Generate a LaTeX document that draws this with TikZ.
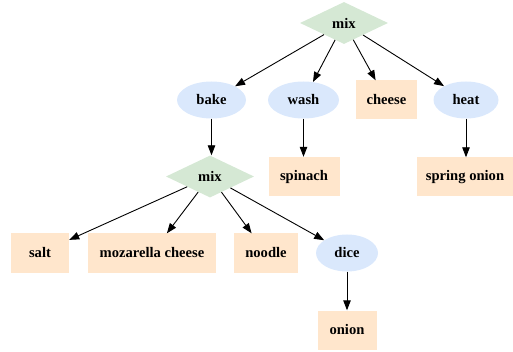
\documentclass[tikz,border=0pt]{standalone}
\usepackage{fontspec}
\setmainfont{Liberation Serif}
\usetikzlibrary{shapes.geometric,arrows.meta}
\definecolor{mixgreen}{HTML}{D5E8D4}
\definecolor{actblue}{HTML}{DAE8FC}
\definecolor{ingorange}{HTML}{FFE6CC}
\tikzset{
  base/.style={inner sep=0pt, font=\fontsize{14.6}{16}\selectfont\bfseries, text=black},
  mixnode/.style={base, diamond, aspect=2, fill=mixgreen, minimum width=88pt, minimum height=42pt},
  actnode/.style={base, ellipse, fill=actblue, minimum height=37pt},
  ingnode/.style={base, rectangle, fill=ingorange, minimum height=39pt},
  edge/.style={-{Triangle[length=10pt,width=7.5pt]}, line width=0.9pt, black}
}
\begin{document}
\begin{tikzpicture}[x=1pt,y=-1pt]
\useasboundingbox (0,0) rectangle (513,352);
\node[mixnode] (mixA) at (344,23) {mix};
\node[actnode, minimum width=69pt] (bake) at (211.5,100) {bake};
\node[actnode, minimum width=71pt] (wash) at (303.5,100) {wash};
\node[ingnode, minimum width=61pt] (cheese) at (386.5,100) {cheese};
\node[actnode, minimum width=65pt] (heat) at (466,100) {heat};
\node[mixnode] (mixB) at (210,176.5) {mix};
\node[ingnode, minimum width=71pt] (spinach) at (304,176.5) {spinach};
\node[ingnode, minimum width=96pt] (spring) at (465,177) {spring onion};
\node[ingnode, minimum width=58pt] (salt) at (40,253) {salt};
\node[ingnode, minimum width=128pt] (mozza) at (152,253) {mozarella cheese};
\node[ingnode, minimum width=64pt] (noodle) at (266,253) {noodle};
\node[actnode, minimum width=62pt] (dice) at (347,253) {dice};
\node[ingnode, minimum width=59pt] (onion) at (347,330) {onion};
\draw[edge] (mixA) -- (bake);
\draw[edge] (mixA) -- (wash);
\draw[edge] (mixA) -- (cheese);
\draw[edge] (mixA) -- (heat);
\draw[edge] (bake) -- (bake |- mixB.north);
\draw[edge] (wash) -- (wash |- spinach.north);
\draw[edge] (heat) -- (heat |- spring.north);
\draw[edge] (mixB) -- (salt);
\draw[edge] (mixB) -- (mozza);
\draw[edge] (mixB) -- (noodle);
\draw[edge] (mixB) -- (dice);
\draw[edge] (dice) -- (dice |- onion.north);
\end{tikzpicture}
\end{document}
